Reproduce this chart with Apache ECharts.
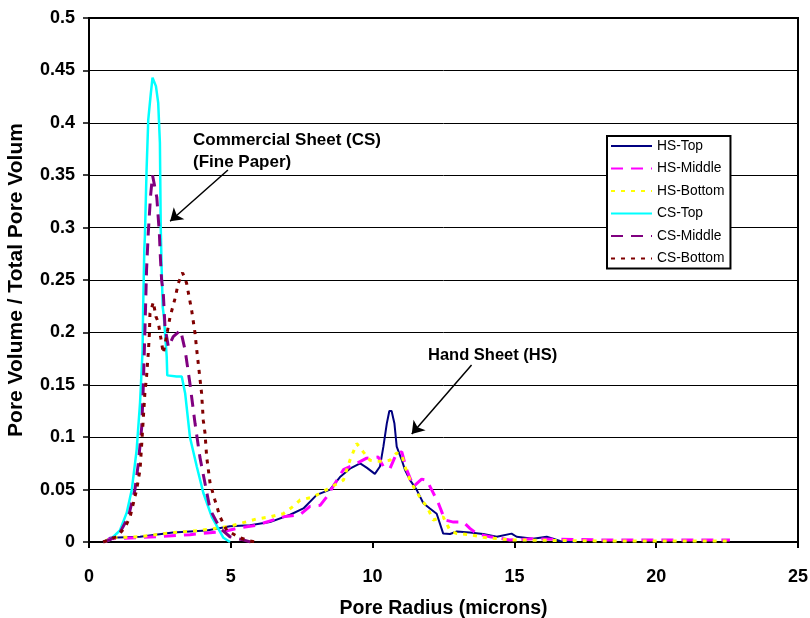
<!DOCTYPE html>
<html>
<head>
<meta charset="utf-8">
<script src="https://cdn.jsdelivr.net/npm/echarts@6/dist/echarts.min.js"></script>
<style>
  html, body { margin: 0; padding: 0; background: #fff; }
  #main { width: 810px; height: 618px; }
</style>
</head>
<body>
<div id="main"></div>
<script>
// pore radius (microns), pore volume / total pore volume
var hsTop = [[0.56,0],[0.74,0.004],[1.8,0.005],[2.96,0.009],[4.15,0.011],[4.97,0.015],[5.68,0.016],[6.38,0.019],[7.09,0.026],[7.56,0.032],[8.03,0.045],[8.5,0.05],[8.85,0.062],[9.2,0.07],[9.56,0.075],[9.79,0.071],[10.08,0.065],[10.26,0.072],[10.38,0.091],[10.5,0.113],[10.59,0.125],[10.67,0.125],[10.77,0.113],[10.85,0.091],[11.03,0.078],[11.14,0.069],[11.32,0.059],[11.55,0.05],[11.79,0.037],[12.02,0.032],[12.26,0.027],[12.49,0.008],[12.73,0.0076],[12.97,0.01],[13.43,0.009],[13.9,0.0076],[14.38,0.005],[14.9,0.008],[15.08,0.005],[15.66,0.003],[16.14,0.005],[16.61,0.001],[17.14,0]];
var hsMiddle = [[0.56,0],[0.74,0.003],[2.39,0.005],[3.56,0.007],[4.74,0.01],[5.21,0.013],[5.91,0.016],[6.85,0.024],[7.44,0.026],[7.79,0.034],[8.15,0.035],[8.38,0.043],[8.61,0.053],[8.97,0.069],[9.44,0.075],[9.79,0.08],[10.2,0.081],[10.38,0.072],[10.61,0.07],[10.85,0.085],[11.03,0.086],[11.2,0.069],[11.44,0.053],[11.73,0.06],[11.91,0.059],[12.08,0.05],[12.32,0.037],[12.55,0.021],[12.85,0.019],[13.2,0.019],[13.43,0.013],[13.67,0.008],[14.14,0.005],[14.84,0.002],[15.67,0.003],[18.0,0.002],[22.6,0.002]];
var hsBottom = [[0.56,0],[0.74,0.004],[1.8,0.005],[2.97,0.009],[3.91,0.011],[4.97,0.015],[5.91,0.022],[6.38,0.024],[6.85,0.027],[7.2,0.034],[7.44,0.04],[7.91,0.043],[8.38,0.05],[8.97,0.059],[9.2,0.078],[9.44,0.094],[9.67,0.086],[9.91,0.078],[10.14,0.077],[10.38,0.077],[10.61,0.078],[10.85,0.085],[11.03,0.083],[11.14,0.072],[11.32,0.059],[11.5,0.05],[11.73,0.04],[11.91,0.034],[12.14,0.021],[12.49,0.024],[12.73,0.011],[12.97,0.008],[13.43,0.007],[13.9,0.0045],[14.84,0.002],[18.0,0.001],[22.6,0.001]];
var csTop = [[0.5,0],[0.74,0.002],[1.09,0.011],[1.33,0.028],[1.51,0.05],[1.68,0.088],[1.8,0.133],[1.89,0.183],[1.91,0.224],[1.95,0.279],[1.97,0.291],[2.03,0.355],[2.09,0.403],[2.18,0.428],[2.24,0.443],[2.31,0.443],[2.36,0.435],[2.44,0.419],[2.5,0.381],[2.53,0.3],[2.56,0.262],[2.6,0.224],[2.64,0.215],[2.74,0.177],[2.76,0.159],[3.09,0.158],[3.27,0.158],[3.39,0.142],[3.56,0.1],[3.8,0.072],[4.03,0.047],[4.33,0.024],[4.74,0.004],[4.97,0]];
var csMiddle = [[0.5,0],[0.74,0.002],[1.09,0.009],[1.39,0.024],[1.62,0.05],[1.74,0.075],[1.86,0.11],[1.91,0.145],[1.97,0.2],[2.03,0.26],[2.09,0.295],[2.17,0.33],[2.24,0.35],[2.3,0.35],[2.39,0.329],[2.48,0.295],[2.52,0.27],[2.56,0.25],[2.62,0.237],[2.68,0.205],[2.8,0.186],[2.97,0.196],[3.23,0.202],[3.39,0.183],[3.56,0.151],[3.74,0.113],[3.91,0.081],[4.09,0.056],[4.27,0.031],[4.62,0.013],[4.97,0.005],[5.43,0.002],[5.7,0]];
var csBottom = [[0.5,0],[0.98,0.005],[1.27,0.014],[1.45,0.024],[1.68,0.05],[1.8,0.069],[1.86,0.094],[1.97,0.142],[2.03,0.158],[2.09,0.18],[2.13,0.199],[2.15,0.218],[2.27,0.229],[2.36,0.215],[2.44,0.21],[2.56,0.19],[2.62,0.18],[2.86,0.215],[3.03,0.232],[3.15,0.247],[3.3,0.257],[3.44,0.247],[3.62,0.221],[3.74,0.199],[3.8,0.183],[3.97,0.142],[4.03,0.116],[4.09,0.104],[4.15,0.081],[4.27,0.056],[4.44,0.04],[4.62,0.024],[4.86,0.011],[5.32,0.004],[5.68,0.001],[5.9,0]];

var names = ['HS-Top', 'HS-Middle', 'HS-Bottom', 'CS-Top', 'CS-Middle', 'CS-Bottom'];
var colors = ['#000080', '#ff00ff', '#ffff00', '#00ffff', '#800080', '#800000'];
var dashes = ['solid', [12, 8], [4, 6], 'solid', [12, 8], [4, 6]];
var widths = [2, 3, 3, 2.5, 3, 3];
var dataSets = [hsTop, hsMiddle, hsBottom, csTop, csMiddle, csBottom];

// annotation arrows (data coords)
var csArrow = [[4.9, 0.355], [2.86, 0.306]];
var hsArrow = [[13.49, 0.169], [11.38, 0.103]];

var font = 'Liberation Sans, Arial, sans-serif';
var myChart = echarts.init(document.getElementById('main'));

function arrow(pts) {
    return {
        silent: true,
        symbol: ['none', 'arrow'],
        symbolSize: 12,
        label: { show: false },
        lineStyle: { color: '#000', width: 1.5, type: 'solid' },
        data: [[{ coord: pts[0] }, { coord: pts[1] }]]
    };
}

var series = names.map(function (n, k) {
    var s = {
        name: n,
        type: 'line',
        data: dataSets[k],
        showSymbol: false,
        symbol: 'none',
        color: colors[k],
        lineStyle: { color: colors[k], width: widths[k], type: dashes[k] }
    };
    if (n === 'CS-Bottom') s.markLine = arrow(csArrow);
    if (n === 'HS-Top') s.markLine = arrow(hsArrow);
    return s;
});

option = {
    animation: false,
    backgroundColor: '#fff',
    grid: {
        left: 89, right: 12, top: 18, bottom: 76,
        outerBoundsMode: 'none',
        show: true, borderColor: '#000', borderWidth: 2
    },
    legend: {
        orient: 'vertical',
        left: 607, top: 136,
        backgroundColor: '#fff',
        borderColor: '#000', borderWidth: 2, borderRadius: 0,
        padding: [3, 6, 3, 3],
        itemGap: 8.5,
        itemWidth: 41, itemHeight: 12,
        itemStyle: { opacity: 0 },
        textStyle: { fontFamily: font, fontSize: 13.8, color: '#000' },
        data: names
    },
    xAxis: {
        type: 'value',
        min: 0, max: 25, interval: 5,
        name: 'Pore Radius (microns)',
        nameLocation: 'middle',
        nameGap: 57,
        nameTextStyle: { fontFamily: font, fontSize: 19.5, fontWeight: 'bold', color: '#000' },
        axisLine: { lineStyle: { color: '#000', width: 2 } },
        axisTick: { show: true, inside: false, length: 6, lineStyle: { color: '#000', width: 2 } },
        axisLabel: { margin: 26, fontFamily: font, fontSize: 18, fontWeight: 'bold', color: '#000' },
        splitLine: { show: false }
    },
    yAxis: {
        type: 'value',
        min: 0, max: 0.5, interval: 0.05,
        name: 'Pore Volume / Total Pore Volum',
        nameLocation: 'middle',
        nameGap: 62,
        nameTextStyle: { fontFamily: font, fontSize: 21, fontWeight: 'bold', color: '#000' },
        axisLine: { lineStyle: { color: '#000', width: 2 } },
        axisTick: { show: true, inside: false, length: 6, lineStyle: { color: '#000', width: 1.5 } },
        axisLabel: { margin: 14, fontFamily: font, fontSize: 18, fontWeight: 'bold', color: '#000' },
        splitLine: { show: true, lineStyle: { color: '#000', width: 1 } }
    },
    graphic: [
        { type: 'text', left: 193, top: 132, style: { text: 'Commercial Sheet (CS)', font: 'bold 17px ' + font, fill: '#000' } },
        { type: 'text', left: 193, top: 154, style: { text: '(Fine Paper)', font: 'bold 17px ' + font, fill: '#000' } },
        { type: 'text', left: 428, top: 347, style: { text: 'Hand Sheet (HS)', font: 'bold 16.5px ' + font, fill: '#000' } }
    ],
    series: series
};
myChart.setOption(option);
</script>
</body>
</html>
